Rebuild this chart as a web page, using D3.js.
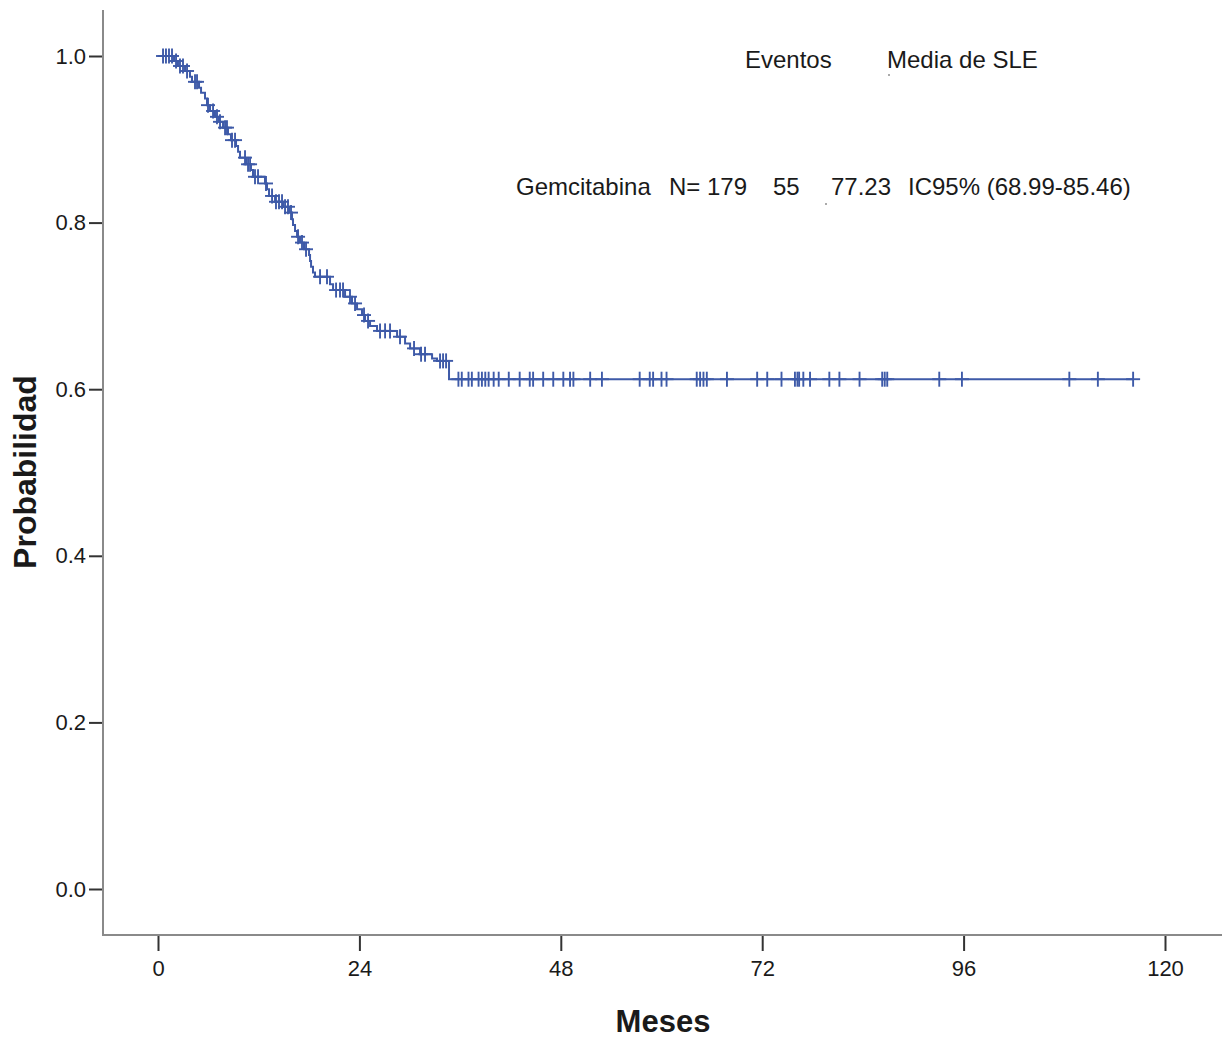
<!DOCTYPE html>
<html>
<head>
<meta charset="utf-8">
<script src="https://cdn.jsdelivr.net/npm/d3@7"></script>
<style>
body{margin:0;background:#fff}
text{font-family:"Liberation Sans",Arial,sans-serif;fill:#1a1a1a}
</style>
</head>
<body>
<div id="chart"></div>
<script>
// Kaplan-Meier steps (meses, supervivencia tras el evento)
var eventTimes = [1.91,2.38,3.22,3.81,4.05,4.89,5.13,5.60,5.84,6.20,6.79,7.27,7.75,8.34,8.70,9.30,9.54,9.77,
    10.49,11.08,11.32,12.75,12.99,13.23,13.95,14.90,15.61,15.97,16.09,16.33,16.57,16.92,17.40,18.00,18.12,18.24,
    18.47,18.71,20.50,20.86,22.29,23.12,23.72,24.31,24.67,25.27,26.10,28.49,29.44,30.04,31.23,32.66,33.25,34.68]
var survival = [0.994,0.988,0.982,0.975,0.969,0.962,0.956,0.949,0.941,0.934,0.927,0.921,0.914,0.906,0.899,0.892,0.885,0.878,
    0.870,0.863,0.855,0.847,0.840,0.832,0.825,0.819,0.812,0.804,0.797,0.790,0.783,0.776,0.768,0.761,0.754,0.747,
    0.740,0.735,0.726,0.719,0.711,0.703,0.696,0.689,0.682,0.676,0.670,0.663,0.655,0.649,0.642,0.637,0.634,0.612]
// censurados
var censorTimes = [0.60,0.95,1.31,1.67,2.15,2.62,2.98,3.46,4.41,4.65,5.96,6.56,7.03,7.39,7.99,8.22,8.82,9.18,
    10.37,10.73,10.97,11.56,11.92,12.87,13.59,14.06,14.42,14.78,15.14,15.49,15.85,16.69,17.16,17.64,19.31,20.14,
    21.22,21.69,22.05,22.88,23.48,24.55,25.03,26.46,27.06,27.65,28.84,30.51,31.35,31.82,33.61,33.97,34.33,
    35.8,36.2,37.0,37.4,38.2,38.6,39.0,39.4,40.0,40.6,41.8,43.1,44.3,44.7,45.9,47.1,48.3,49.1,49.5,51.5,52.9,
    57.4,58.6,59.0,60.0,60.6,64.2,64.6,65.0,65.4,67.8,71.4,72.6,74.3,75.9,76.2,76.4,76.9,77.7,80.0,81.2,83.6,
    86.3,86.6,86.9,93.1,95.8,108.6,112.0,116.2]
var xTicks = [0,24,48,72,96,120]
var yTicks = [0,0.2,0.4,0.6,0.8,1.0]

var width = 1222, height = 1038
var blue = '#3e5aa8'
var svg = d3.select('#chart').append('svg').attr('width', width).attr('height', height)

var x = d3.scaleLinear().domain([0, 120]).range([158, 1165])
var y = d3.scaleLinear().domain([0, 1]).range([889, 56])

function survAt(t){
    var s = 1
    for (var i = 0; i < eventTimes.length; i++){
        if (eventTimes[i] <= t) s = survival[i]
    }
    return s
}

// ejes
svg.append('line').attr('x1', 103).attr('x2', 103).attr('y1', 10).attr('y2', 936)
    .attr('stroke', '#8a8a8a').attr('stroke-width', 2)
svg.append('line').attr('x1', 102).attr('x2', 1222).attr('y1', 935).attr('y2', 935)
    .attr('stroke', '#8a8a8a').attr('stroke-width', 2)

var gx = svg.append('g').attr('transform', 'translate(0,936)')
    .call(d3.axisBottom(x).tickValues(xTicks).tickSize(15).tickPadding(9))
gx.select('.domain').remove()
var gy = svg.append('g').attr('transform', 'translate(102,0)')
    .call(d3.axisLeft(y).tickValues(yTicks).tickFormat(d3.format('.1f')).tickSize(13).tickPadding(3))
gy.select('.domain').remove()
svg.selectAll('.tick line').attr('stroke', '#333').attr('stroke-width', 2)
svg.selectAll('.tick text').attr('font-size', 22).attr('fill', '#1a1a1a')
    .style('font-family', '"Liberation Sans",Arial,sans-serif')

// titulos
svg.append('text').attr('x', 663).attr('y', 1032).attr('text-anchor', 'middle')
    .attr('font-size', 31).attr('font-weight', 'bold').text('Meses')
svg.append('text').attr('transform', 'translate(36,472) rotate(-90)').attr('text-anchor', 'middle')
    .attr('font-size', 32).attr('font-weight', 'bold').text('Probabilidad')

// curva
var pts = [[0, 1]]
for (var i = 0; i < eventTimes.length; i++) pts.push([eventTimes[i], survival[i]])
pts.push([censorTimes[censorTimes.length - 1], survAt(censorTimes[censorTimes.length - 1])])
var line = d3.line().x(function(d){ return x(d[0]) }).y(function(d){ return y(d[1]) }).curve(d3.curveStepAfter)
svg.append('path').attr('d', line(pts)).attr('fill', 'none').attr('stroke', blue).attr('stroke-width', 2)

var cz = svg.append('g').attr('stroke', blue).attr('stroke-width', 1.9)
censorTimes.forEach(function(t){
    var cx = x(t), cy = y(survAt(t))
    cz.append('line').attr('x1', cx).attr('x2', cx).attr('y1', cy - 7.5).attr('y2', cy + 7.5)
    cz.append('line').attr('x1', cx - 7).attr('x2', cx + 7).attr('y1', cy).attr('y2', cy)
})

// leyenda
var fs = 24
svg.append('text').attr('x', 745).attr('y', 68).attr('font-size', fs).text('Eventos')
svg.append('text').attr('x', 887).attr('y', 68).attr('font-size', fs).text('Media de SLE')
svg.append('text').attr('x', 516).attr('y', 195).attr('font-size', fs).text('Gemcitabina')
svg.append('text').attr('x', 669).attr('y', 195).attr('font-size', fs).text('N= 179')
svg.append('text').attr('x', 773).attr('y', 195).attr('font-size', fs).text('55')
svg.append('text').attr('x', 831).attr('y', 195).attr('font-size', fs).text('77.23')
svg.append('text').attr('x', 908).attr('y', 195).attr('font-size', fs).text('IC95% (68.99-85.46)')
svg.append('rect').attr('x', 888).attr('y', 74).attr('width', 2).attr('height', 2).attr('fill', '#aaa')
svg.append('rect').attr('x', 825).attr('y', 203).attr('width', 2).attr('height', 2).attr('fill', '#aaa')
</script>
</body>
</html>
